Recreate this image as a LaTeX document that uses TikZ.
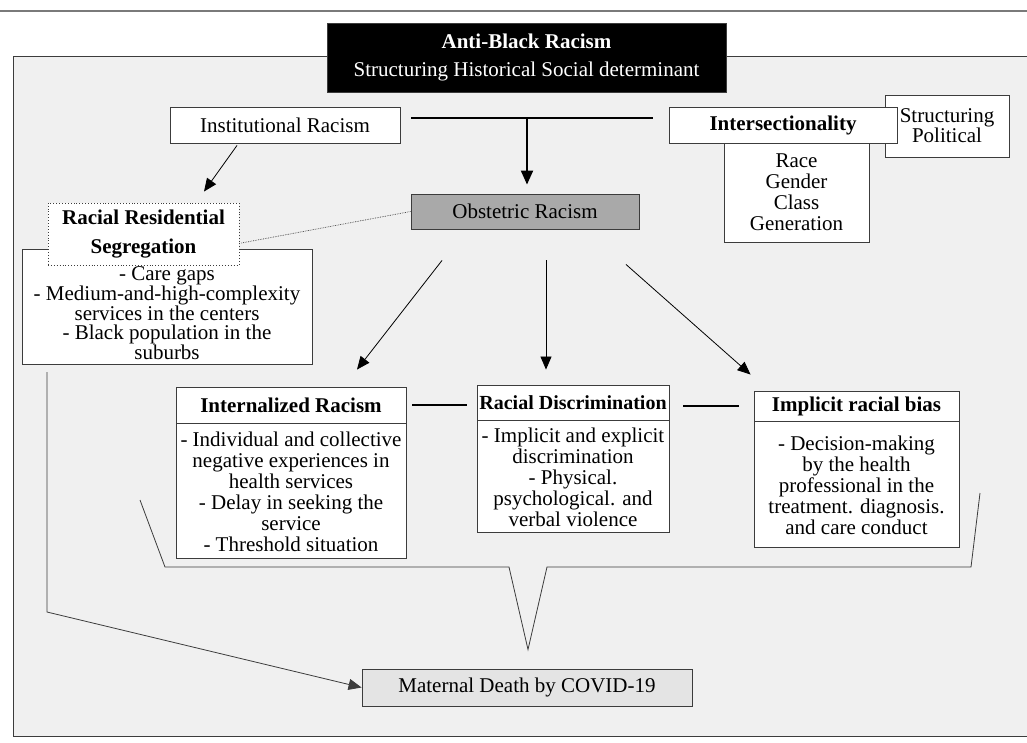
\documentclass[tikz,border=0pt]{standalone}
\usepackage{fontspec}
\setmainfont{Liberation Serif}
\usepackage{xcolor}
\usepackage{tikz}
\usetikzlibrary{arrows.meta,positioning,calc}

\definecolor{panelgray}{HTML}{F0F0F0}
\definecolor{edgegray}{HTML}{3C3C3C}
\definecolor{rulegray}{HTML}{7A7A7A}
\definecolor{obstgray}{HTML}{A9A9A9}
\definecolor{deathgray}{HTML}{E4E4E4}

\begin{document}
\begin{tikzpicture}[
  x=1pt, y=-1pt,
  box/.style={draw=edgegray, fill=white, line width=0.9pt, align=center, inner sep=0pt, font=\fontsize{21}{21}\selectfont},
  head/.style={box, font=\bfseries\fontsize{21}{21}\selectfont},
  arrow/.style={-{Triangle[length=13pt, width=11pt]}, line width=0.8pt},
  bigarrow/.style={-{Triangle[length=14pt, width=12pt]}, line width=2pt},
  link/.style={line width=2.6pt}
]
\useasboundingbox (0,0) rectangle (1027,742);
\fill[panelgray] (13,56) rectangle (1040,736);
\draw[edgegray, line width=0.9pt] (1040,56) -- (13,56) -- (13,736) -- (1040,736);
\draw[rulegray, line width=1.2pt] (0,11) -- (1027,11);

\node[box, fill=black, text=white, minimum width=399, minimum height=69, font=\fontsize{21}{28}\selectfont] (antiblack) at (526.5,57.5) {\textbf{Anti-Black Racism}\\Structuring Historical Social determinant};
\node[box, minimum width=230, minimum height=36] (inst) at (285,125) {Institutional Racism};
\node[box, fill=obstgray, minimum width=228, minimum height=35] (obst) at (525,211.5) {Obstetric Racism};
\node[box, minimum width=124, minimum height=62, font=\fontsize{21}{20}\selectfont] (struct) at (947,126) {Structuring\\Political};
\node[head, minimum width=228, minimum height=36] (inter) at (783,125) {Intersectionality};
\node[box, minimum width=145, minimum height=99] (axes) at (796.5,192.5) {Race\\Gender\\Class\\Generation};

\node[box, minimum width=290, minimum height=115] (gaps) at (167,306.5) {};
\node[align=center, inner sep=0pt, font=\fontsize{21}{19}\selectfont] (gapstxt) at (167,313) {- Care gaps\\- Medium-and-high-complexity\\services in the centers\\- Black population in the\\suburbs};
\node[head, dotted, minimum width=191, minimum height=62, font=\bfseries\fontsize{21}{29}\selectfont] (seg) at (143.5,234) {Racial Residential\\Segregation};

\node[head, minimum width=230, minimum height=36] (inthead) at (291,405) {Internalized Racism};
\node[box, minimum width=230, minimum height=135, below=0pt of inthead] (intbody) {- Individual and collective\\negative experiences in\\health services\\- Delay in seeking the\\service\\- Threshold situation};
\node[head, minimum width=192, minimum height=35, font=\bfseries\fontsize{20}{20}\selectfont] (rdhead) at (573,402.5) {Racial Discrimination};
\node[box, minimum width=192, minimum height=112, below=0pt of rdhead] (rdbody) {- Implicit and explicit\\discrimination\\- Physical.\\psychological. and\\verbal violence};
\node[head, minimum width=205, minimum height=30] (irbhead) at (856.5,406) {Implicit racial bias};
\node[box, minimum width=205, minimum height=126, below=0pt of irbhead] (irbbody) {- Decision-making\\by the health\\professional in the\\treatment. diagnosis.\\and care conduct};

\node[box, fill=deathgray, minimum width=330, minimum height=37] (death) at (527,687.5) {Maternal Death by COVID-19};

\coordinate (barL) at (411,118);
\coordinate (barR) at (653,118);
\coordinate (barM) at (527,118);
\coordinate (segfoot) at (47,372);
\coordinate (segturn) at (47,612);
\coordinate (bracetip) at ($(death.north)+(1,-19)$);

\draw[link] (barL) -- (barR);
\draw[bigarrow] (barM) -- ($(obst.north)+(2,-9)$);
\draw[arrow] ($(inst.south)+(-48,2)$) -- ($(seg.north)+(60.5,-11)$);
\draw[densely dotted, edgegray, line width=0.7pt] ($(seg.east)+(2,9)$) -- (obst.west);
\draw[arrow] ($(obst.south)+(-83,31)$) -- ($(inthead.north)+(66,-17)$);
\draw[arrow] ($(obst.south)+(21,31)$) -- ($(rdhead.north)+(-27,-15)$);
\draw[arrow] ($(obst.south)+(101,35)$) -- ($(irbhead.north west)+(-3,-16)$);
\draw[link] ([xshift=6]inthead.east) -- ([xshift=-10]inthead.east -| rdhead.west);
\draw[link] ([xshift=14]irbhead.west -| rdhead.east) -- ([xshift=-15]irbhead.west);
\draw[edgegray, line width=0.8pt] (140,500) -- (165,567) -- (509,567) -- (bracetip) -- (547,567) -- (971,567) -- (980,493);
\draw[arrow, edgegray] (segfoot) -- (segturn) -- (death.west);
\end{tikzpicture}
\end{document}
